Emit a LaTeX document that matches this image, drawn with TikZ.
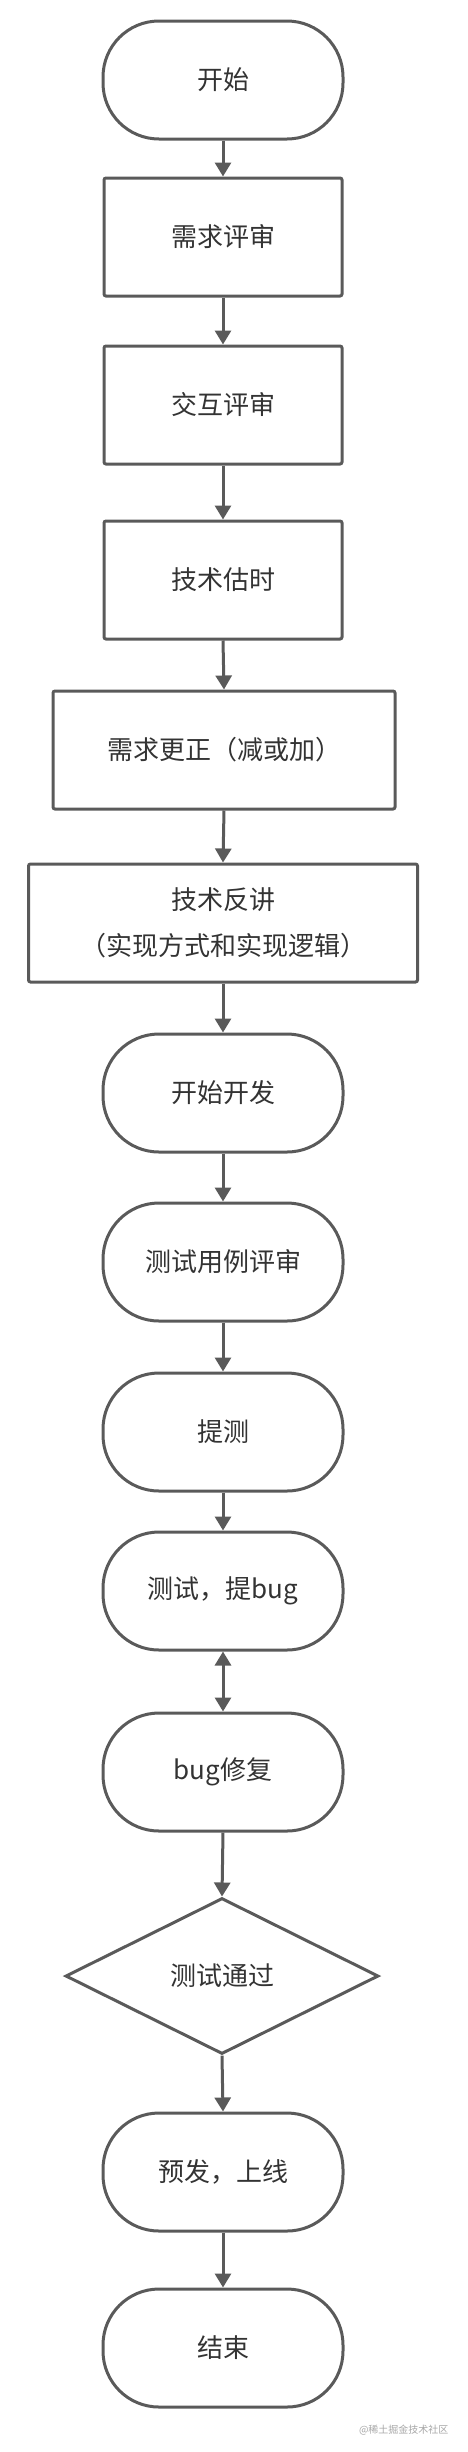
\documentclass[tikz,border=0pt]{standalone}
\usepackage{fontspec}
\setmainfont{Noto Sans CJK SC}
\usetikzlibrary{arrows.meta,shapes.geometric}
\definecolor{edgegray}{HTML}{5A5A5A}
\definecolor{textgray}{HTML}{333333}
\tikzset{
  terminal/.style={draw=edgegray, line width=3pt, rounded corners=56pt, minimum width=240pt, minimum height=118pt, text=textgray},
  process/.style={draw=edgegray, line width=3pt, rounded corners=2pt, minimum height=118pt, text=textgray, align=center},
  decision/.style={draw=edgegray, line width=3pt, diamond, aspect=2, inner sep=0pt, minimum width=313pt, minimum height=156pt, text=textgray},
  flow/.style={draw=edgegray, line width=3pt, -{Triangle[width=16pt,length=14pt]}}
}
\begin{document}
\begin{tikzpicture}[x=1pt, y=-1pt, font=\fontsize{26}{46}\selectfont]
  \useasboundingbox (0,0) rectangle (468,2452);
  % steps
  \node[terminal] (start) at (223,80) {开始};
  \node[process, minimum width=238pt] (req) at (223,237) {需求评审};
  \node[process, minimum width=238pt] (ui) at (223,405) {交互评审};
  \node[process, minimum width=238pt] (est) at (223,580) {技术估时};
  \node[process, minimum width=342pt] (fix req) at (224,750) {需求更正（减或加）};
  \node[process, minimum width=389pt] (talk) at (223,923) {技术反讲\\（实现方式和实现逻辑）};
  \node[terminal] (dev) at (223,1093) {开始开发};
  \node[terminal] (cases) at (223,1262) {测试用例评审};
  \node[terminal] (submit) at (223,1432) {提测};
  \node[terminal] (test) at (223,1591) {测试，提bug};
  \node[terminal] (bugfix) at (223,1772) {bug修复};
  \node[decision] (pass) at (222,1976) {测试通过};
  \node[terminal] (release) at (223,2172) {预发，上线};
  \node[terminal] (stop) at (223,2348) {结束};
  % connectors
  \foreach \a/\b in {start/req, req/ui, ui/est, est/fix req, fix req/talk, talk/dev,
                     dev/cases, cases/submit, submit/test, bugfix/pass, pass/release, release/stop}
    \draw[flow] (\a.south) -- (\b.north);
  \draw[flow, {Triangle[width=16pt,length=14pt]}-{Triangle[width=16pt,length=14pt]}] (test.south) -- (bugfix.north);
  % watermark
  \node[anchor=east, text=gray!70, font=\fontsize{10}{12}\selectfont] (mark) at (452,2430) {@稀土掘金技术社区};
\end{tikzpicture}
\end{document}
